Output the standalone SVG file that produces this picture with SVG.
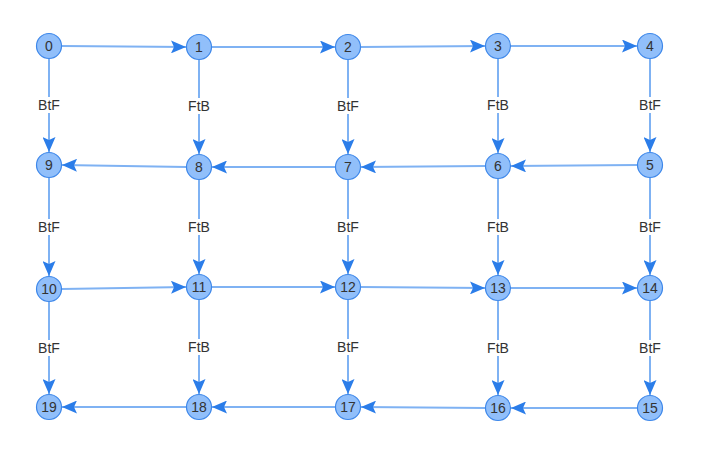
<svg xmlns="http://www.w3.org/2000/svg" width="714" height="471" viewBox="0 0 714 471">
<style>
.e{stroke:#7fb2f3;stroke-width:2;fill:none;marker-end:url(#ah)}
.n circle{fill:#91bffa;stroke:#3d87ea;stroke-width:1.2}
.n text{font-family:"Liberation Sans",Arial,sans-serif;font-size:14px;fill:#333;text-anchor:middle;dominant-baseline:central}
.l rect{fill:#fff}
.l text{font-family:"Liberation Sans",Arial,sans-serif;font-size:14px;fill:#333;text-anchor:middle;dominant-baseline:central}
</style>
<defs>
<marker id="ah" markerUnits="userSpaceOnUse" markerWidth="15" markerHeight="13" refX="15" refY="6.5" orient="auto">
<path d="M0,0 L15,6.5 L0,13 L3,6.5 Z" fill="#2b7de9"/>
</marker>
</defs>
<rect width="714" height="471" fill="#fff"/>
<g id="edges">
<line class="e" x1="62" y1="46" x2="186" y2="47"/>
<line class="e" x1="212" y1="47" x2="335" y2="47"/>
<line class="e" x1="361" y1="47" x2="485" y2="46"/>
<line class="e" x1="511" y1="46" x2="637" y2="46"/>
<line class="e" x1="49" y1="59" x2="49" y2="152"/>
<line class="e" x1="199" y1="60" x2="199" y2="154"/>
<line class="e" x1="348" y1="60" x2="348" y2="154"/>
<line class="e" x1="498" y1="59" x2="498" y2="153"/>
<line class="e" x1="650" y1="59" x2="650" y2="152"/>
<line class="e" x1="637" y1="165" x2="511" y2="166"/>
<line class="e" x1="485" y1="166" x2="361" y2="167"/>
<line class="e" x1="335" y1="167" x2="212" y2="167"/>
<line class="e" x1="186" y1="167" x2="62" y2="165"/>
<line class="e" x1="49" y1="178" x2="49" y2="276"/>
<line class="e" x1="199" y1="180" x2="199" y2="274"/>
<line class="e" x1="348" y1="180" x2="348" y2="274"/>
<line class="e" x1="498" y1="179" x2="498" y2="275"/>
<line class="e" x1="650" y1="178" x2="650" y2="275"/>
<line class="e" x1="62" y1="289" x2="186" y2="287"/>
<line class="e" x1="212" y1="287" x2="335" y2="287"/>
<line class="e" x1="361" y1="287" x2="485" y2="288"/>
<line class="e" x1="511" y1="288" x2="637" y2="288"/>
<line class="e" x1="49" y1="302" x2="49" y2="394"/>
<line class="e" x1="199" y1="300" x2="199" y2="394"/>
<line class="e" x1="348" y1="300" x2="348" y2="394"/>
<line class="e" x1="498" y1="301" x2="498" y2="395"/>
<line class="e" x1="650" y1="301" x2="650" y2="395"/>
<line class="e" x1="637" y1="408" x2="511" y2="408"/>
<line class="e" x1="485" y1="408" x2="361" y2="407"/>
<line class="e" x1="335" y1="407" x2="212" y2="407"/>
<line class="e" x1="186" y1="407" x2="62" y2="407"/>
</g>
<g id="labels">
<g class="l"><rect x="35" y="97" width="28" height="16"/><text x="49" y="105">BtF</text></g>
<g class="l"><rect x="185" y="98" width="28" height="16"/><text x="199" y="106">FtB</text></g>
<g class="l"><rect x="334" y="98" width="28" height="16"/><text x="348" y="106">BtF</text></g>
<g class="l"><rect x="484" y="97" width="28" height="16"/><text x="498" y="105">FtB</text></g>
<g class="l"><rect x="636" y="97" width="28" height="16"/><text x="650" y="105">BtF</text></g>
<g class="l"><rect x="35" y="219" width="28" height="16"/><text x="49" y="227">BtF</text></g>
<g class="l"><rect x="185" y="219" width="28" height="16"/><text x="199" y="227">FtB</text></g>
<g class="l"><rect x="334" y="219" width="28" height="16"/><text x="348" y="227">BtF</text></g>
<g class="l"><rect x="484" y="219" width="28" height="16"/><text x="498" y="227">FtB</text></g>
<g class="l"><rect x="636" y="219" width="28" height="16"/><text x="650" y="227">BtF</text></g>
<g class="l"><rect x="35" y="340" width="28" height="16"/><text x="49" y="348">BtF</text></g>
<g class="l"><rect x="185" y="339" width="28" height="16"/><text x="199" y="347">FtB</text></g>
<g class="l"><rect x="334" y="339" width="28" height="16"/><text x="348" y="347">BtF</text></g>
<g class="l"><rect x="484" y="340" width="28" height="16"/><text x="498" y="348">FtB</text></g>
<g class="l"><rect x="636" y="340" width="28" height="16"/><text x="650" y="348">BtF</text></g>
</g>
<g id="n0" class="n"><circle cx="49" cy="46" r="12.5"/><text x="49" y="46">0</text></g>
<g id="n1" class="n"><circle cx="199" cy="47" r="12.5"/><text x="199" y="47">1</text></g>
<g id="n2" class="n"><circle cx="348" cy="47" r="12.5"/><text x="348" y="47">2</text></g>
<g id="n3" class="n"><circle cx="498" cy="46" r="12.5"/><text x="498" y="46">3</text></g>
<g id="n4" class="n"><circle cx="650" cy="46" r="12.5"/><text x="650" y="46">4</text></g>
<g id="n5" class="n"><circle cx="650" cy="165" r="12.5"/><text x="650" y="165">5</text></g>
<g id="n6" class="n"><circle cx="498" cy="166" r="12.5"/><text x="498" y="166">6</text></g>
<g id="n7" class="n"><circle cx="348" cy="167" r="12.5"/><text x="348" y="167">7</text></g>
<g id="n8" class="n"><circle cx="199" cy="167" r="12.5"/><text x="199" y="167">8</text></g>
<g id="n9" class="n"><circle cx="49" cy="165" r="12.5"/><text x="49" y="165">9</text></g>
<g id="n10" class="n"><circle cx="49" cy="289" r="12.5"/><text x="49" y="289">10</text></g>
<g id="n11" class="n"><circle cx="199" cy="287" r="12.5"/><text x="199" y="287">11</text></g>
<g id="n12" class="n"><circle cx="348" cy="287" r="12.5"/><text x="348" y="287">12</text></g>
<g id="n13" class="n"><circle cx="498" cy="288" r="12.5"/><text x="498" y="288">13</text></g>
<g id="n14" class="n"><circle cx="650" cy="288" r="12.5"/><text x="650" y="288">14</text></g>
<g id="n15" class="n"><circle cx="650" cy="408" r="12.5"/><text x="650" y="408">15</text></g>
<g id="n16" class="n"><circle cx="498" cy="408" r="12.5"/><text x="498" y="408">16</text></g>
<g id="n17" class="n"><circle cx="348" cy="407" r="12.5"/><text x="348" y="407">17</text></g>
<g id="n18" class="n"><circle cx="199" cy="407" r="12.5"/><text x="199" y="407">18</text></g>
<g id="n19" class="n"><circle cx="49" cy="407" r="12.5"/><text x="49" y="407">19</text></g>
</svg>
